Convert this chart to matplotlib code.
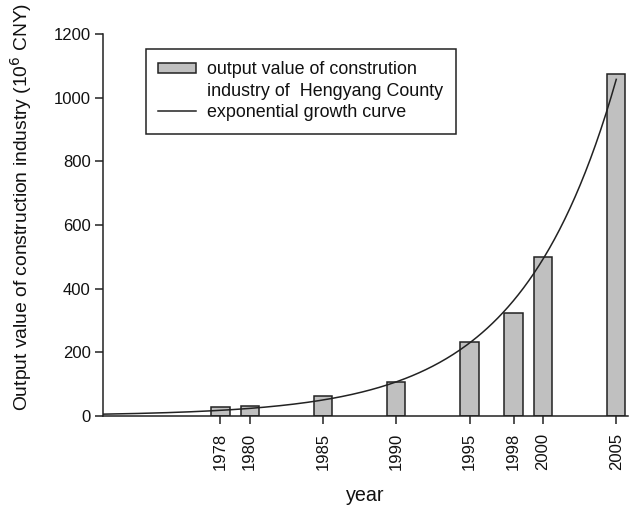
import numpy as np
import matplotlib
matplotlib.use("Agg")
import matplotlib.pyplot as plt
from matplotlib.patches import Patch
from matplotlib.lines import Line2D

plt.rcParams['font.family'] = ['Liberation Sans', 'DejaVu Sans']

# Output value of the construction industry, Hengyang County (10^6 CNY)
years = [1978, 1980, 1985, 1990, 1995, 1998, 2000, 2005]
output_value = [28, 31, 62, 107, 231, 324, 498, 1075]
year_labels = ['1978', '1980', '1985', '1990', '1995', '1998', '2000', '2005']
y_ticks = [0, 200, 400, 600, 800, 1000, 1200]

# fitted exponential growth curve: y = a * exp(b * (t - 1970))
fit_a = 5.0
fit_b = 0.153
fit_start, fit_end = 1970, 2005

fig = plt.figure(figsize=(6.29, 5.07), dpi=100)
ax = fig.add_axes([0.1638, 0.180, 0.8346, 0.7523])

ax.bar(years, output_value, width=1.25, color='#c0c0c0',
       edgecolor='#222222', linewidth=1.1, zorder=2)

t = np.linspace(fit_start, fit_end, 300)
ax.plot(t, fit_a * np.exp(fit_b * (t - fit_start)), color='#222222',
        linewidth=1.1, zorder=3)

ax.set_xlim(1970, 2005.8)
ax.set_ylim(0, 1200)
ax.set_xticks(years)
ax.set_xticklabels(year_labels, rotation=90)
ax.set_yticks(y_ticks)

for s in ['top', 'right']:
    ax.spines[s].set_visible(False)
for s in ['left', 'bottom']:
    ax.spines[s].set_linewidth(1.1)
    ax.spines[s].set_color('#222222')

ax.tick_params(axis='both', direction='out', length=6, width=1.1,
               color='#222222', labelsize=12, labelcolor='#111111')
ax.tick_params(axis='x', pad=6)
ax.tick_params(axis='y', pad=3)

ax.set_xlabel('year', fontsize=14.2, color='#111111', labelpad=12)
ax.set_ylabel('Output value of construction industry (10$^{6}$ CNY)',
              fontsize=13.9, color='#111111')
ax.yaxis.set_label_coords(-0.131, 0.547)

handles = [Patch(facecolor='#c0c0c0', edgecolor='#222222', linewidth=1.1),
           Line2D([], [], color='none'),
           Line2D([], [], color='#222222', linewidth=1.1)]
labels = ['output value of constrution',
          'industry of  Hengyang County',
          'exponential growth curve']
leg = ax.legend(handles, labels, loc='upper left',
                bbox_to_anchor=(0.0817, 0.962), borderaxespad=0,
                fancybox=False, framealpha=1, edgecolor='#222222',
                fontsize=12.9, handlelength=2.1, handleheight=0.55,
                handletextpad=0.6, labelspacing=0.25, borderpad=0.7)
leg.get_frame().set_linewidth(1.1)
for txt in leg.get_texts():
    txt.set_color('#111111')

fig.savefig('out.png', dpi=100)
